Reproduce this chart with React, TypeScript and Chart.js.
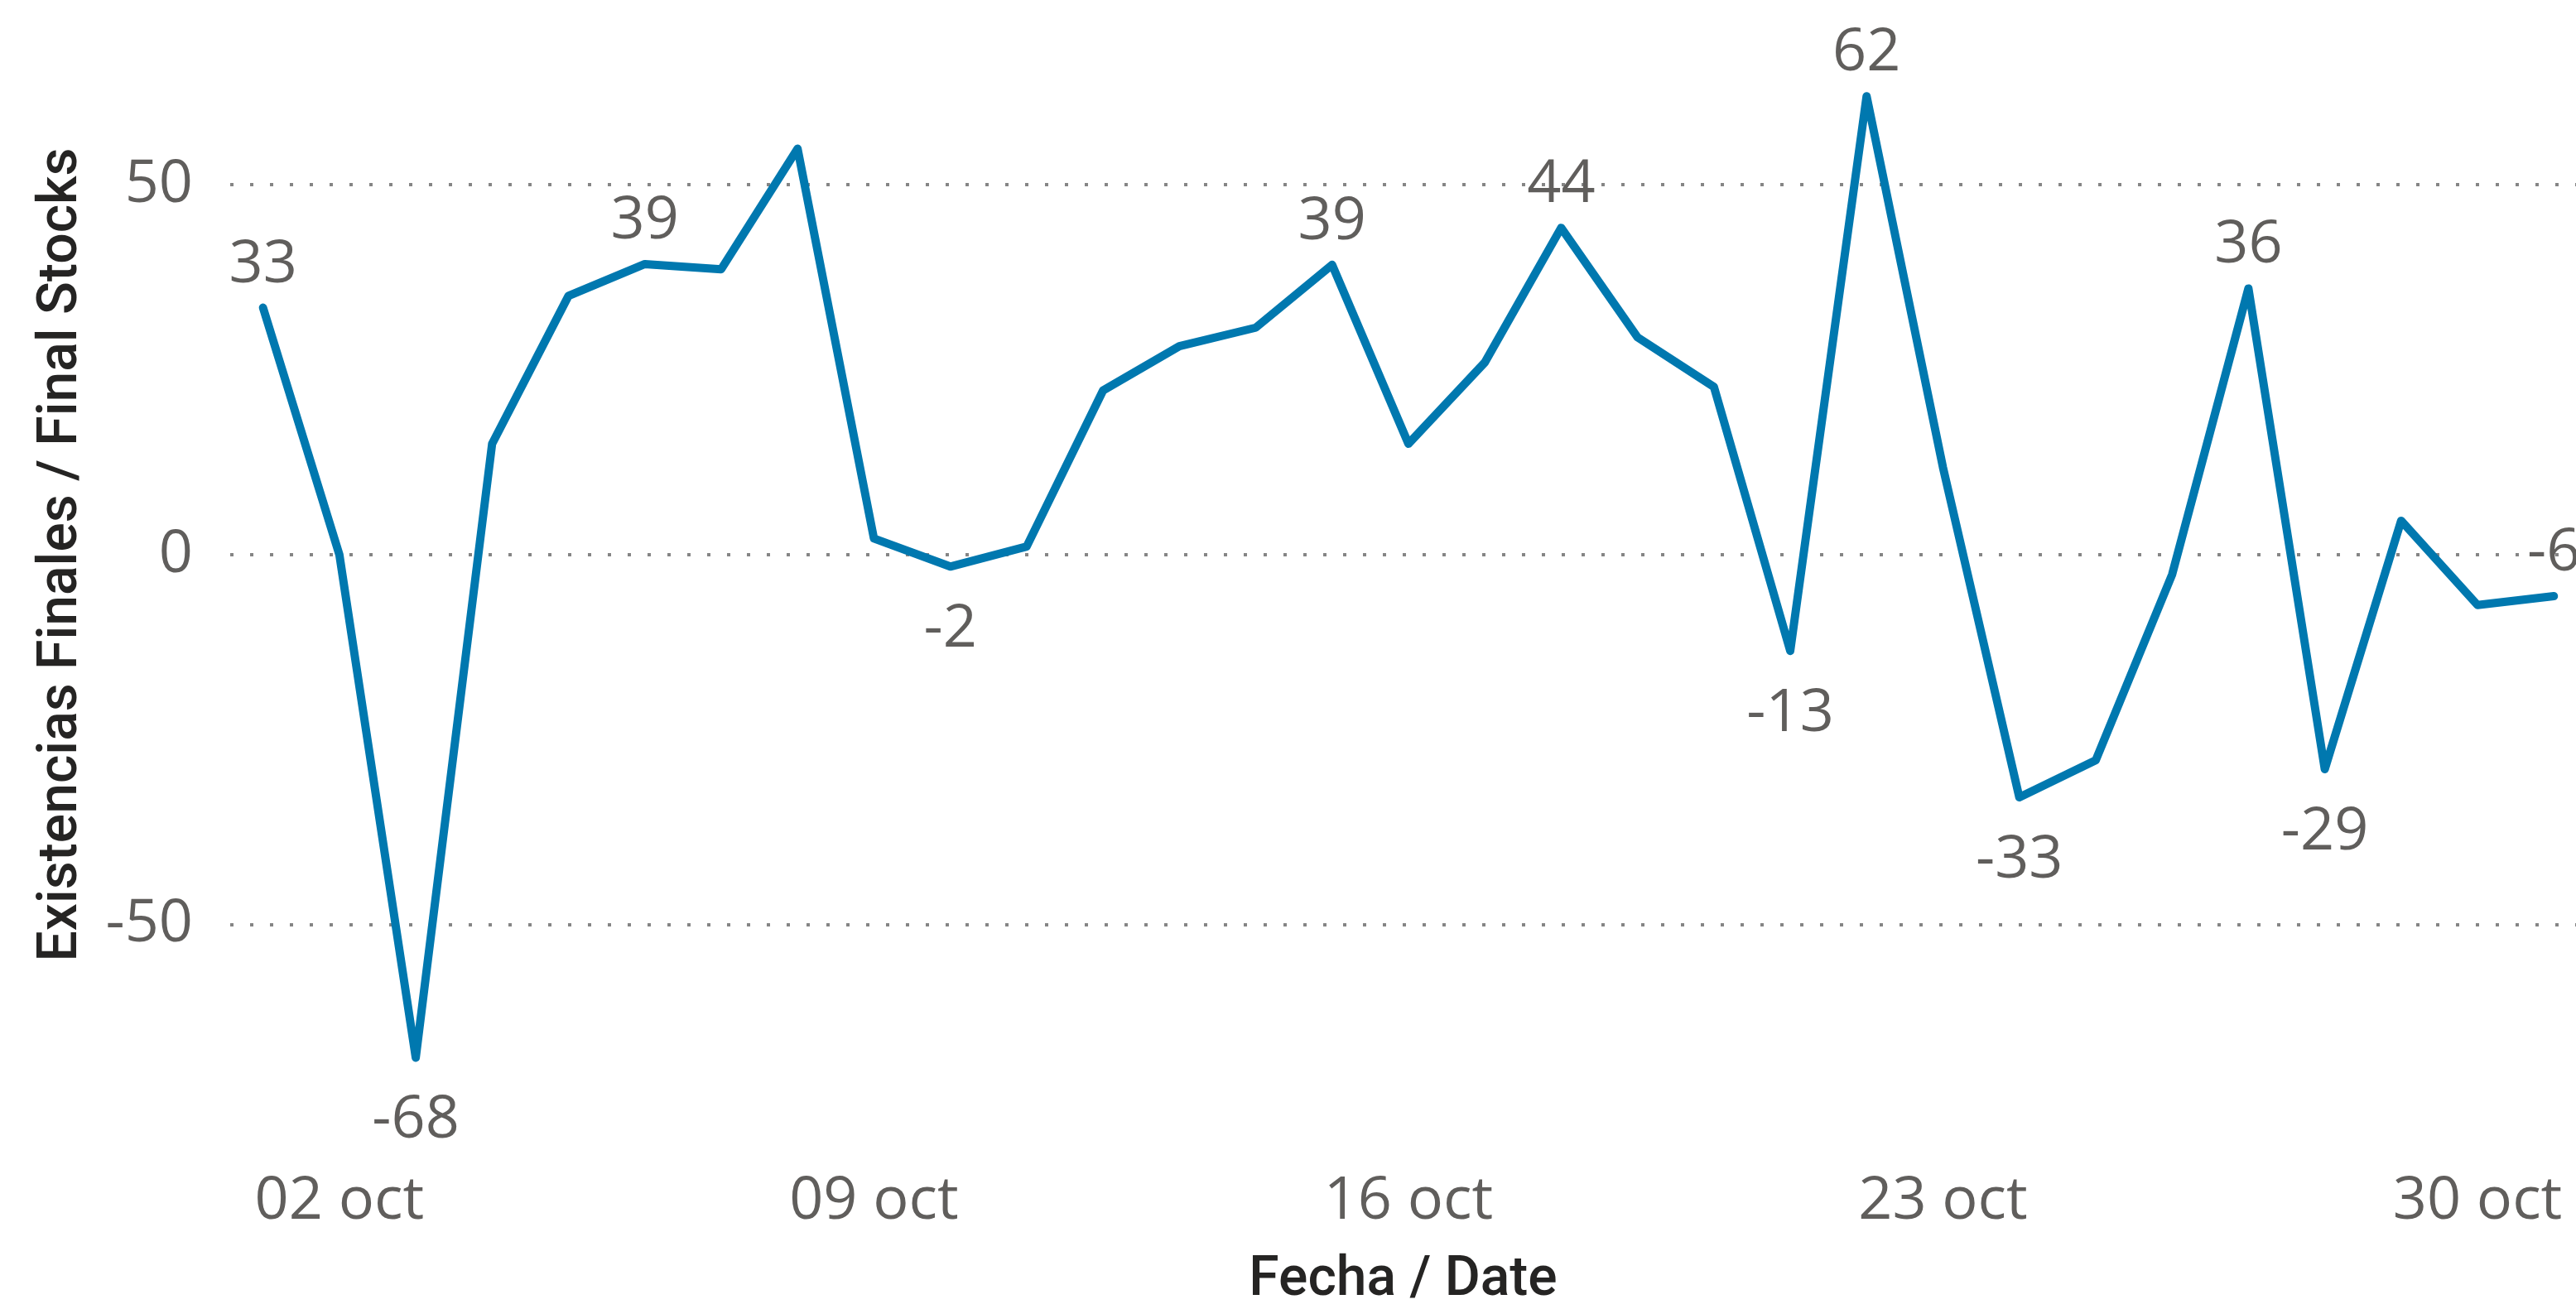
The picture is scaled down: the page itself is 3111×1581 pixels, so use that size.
import { useEffect, useRef } from 'react';
import { Chart, registerables } from 'chart.js';

Chart.register(...registerables);

// Day of October for each point
const days = [1, 2, 3, 4, 5, 6, 7, 8, 9, 10, 11, 12, 13, 14, 15, 16, 17, 18, 19, 20, 21, 22, 23, 24, 25, 26, 27, 28, 29, 30, 31];
// Existencias Finales / Final Stocks
const values = [33.4, 0, -68, 15, 35, 39.3, 38.6, 54.9, 2.2, -1.6, 1.1, 22.2, 28.2, 30.7, 39.2, 15, 26, 44.2, 29.4, 22.7, -13, 62, 11.8, -32.8, -27.8, -2.7, 36, -29, 4.6, -6.8, -5.6];
const monthLabel = 'oct';
const xTickDays = [2, 9, 16, 23, 30];
const yTicks = [-50, 0, 50];
// points that carry a data label, and whether the label sits below the point
const labeledDays = [1, 3, 6, 10, 15, 18, 21, 22, 24, 27, 28, 31];
const labelBelow = [false, true, false, true, false, false, true, false, true, false, true, false];

const W = 3111;
const H = 1581;

const pointLabels = {
  id: 'pointLabels',
  afterDatasetsDraw(chart: any) {
    const ctx = chart.ctx;
    const meta = chart.getDatasetMeta(0);
    ctx.save();
    ctx.font = '400 72px "Open Sans"';
    ctx.fillStyle = '#605E5C';
    ctx.textAlign = 'center';
    ctx.textBaseline = 'alphabetic';
    labeledDays.forEach((d, k) => {
      const i = days.indexOf(d);
      const el = meta.data[i];
      if (!el) return;
      const text = String(Math.round(values[i]));
      const y = labelBelow[k] ? el.y + 97 : el.y - 31;
      ctx.fillText(text, el.x, y);
    });
    ctx.restore();
  },
};

export default function App() {
  const ref = useRef<HTMLCanvasElement | null>(null);

  useEffect(() => {
    if (!ref.current) return;
    const chart = new Chart(ref.current, {
      type: 'line',
      data: {
        datasets: [
          {
            data: days.map((d, i) => ({ x: d, y: values[i] })),
            borderColor: '#0078AF',
            borderWidth: 10,
            borderJoinStyle: 'round',
            borderCapStyle: 'round',
            pointRadius: 0,
            tension: 0,
            fill: false,
            clip: false,
          },
        ],
      },
      options: {
        animation: false,
        responsive: false,
        devicePixelRatio: 1,
        layout: { padding: 0, autoPadding: false },
        plugins: {
          legend: { display: false },
          tooltip: { enabled: false },
        },
        scales: {
          x: {
            type: 'linear',
            min: 0.57,
            max: 31.29,
            afterBuildTicks: (s: any) => {
              s.ticks = xTickDays.map((v) => ({ value: v }));
            },
            afterFit: (s: any) => {
              s.height = 241;
              s.paddingLeft = 0;
              s.paddingRight = 0;
              s.paddingTop = 0;
              s.paddingBottom = 0;
            },
            ticks: {
              autoSkip: false,
              maxRotation: 0,
              padding: 68,
              color: '#605E5C',
              font: { family: '"Open Sans"', size: 72 },
              callback: (v: any) => String(v).padStart(2, '0') + ' ' + monthLabel,
            },
            grid: { display: false, drawTicks: false },
            border: { display: false },
            title: {
              display: true,
              text: 'Fecha / Date',
              color: '#252423',
              font: { family: 'Roboto', size: 66, weight: '500', lineHeight: 1 },
              padding: { top: 0, bottom: 1 },
            },
          },
          y: {
            type: 'linear',
            min: -75,
            max: 75,
            afterBuildTicks: (s: any) => {
              s.ticks = yTicks.map((v) => ({ value: v }));
            },
            afterFit: (s: any) => {
              s.width = 278;
              s.paddingLeft = 0;
              s.paddingRight = 0;
              s.paddingTop = 0;
              s.paddingBottom = 0;
            },
            ticks: {
              padding: 45,
              color: '#605E5C',
              font: { family: '"Open Sans"', size: 72 },
            },
            grid: { color: '#858585', lineWidth: 4, drawTicks: false },
            border: { display: false, dash: [4, 20] },
            title: {
              display: true,
              text: 'Existencias Finales / Final Stocks',
              color: '#252423',
              font: { family: 'Roboto', size: 66, weight: '500', lineHeight: 1 },
              padding: { top: 42, bottom: 0 },
            },
          },
        },
      },
      plugins: [pointLabels],
    });
    return () => chart.destroy();
  }, []);

  return (
    <div style={{ position: 'absolute', left: 0, top: 0, width: W, height: H, overflow: 'hidden', background: '#fff' }}>
      <canvas ref={ref} width={W} height={H} style={{ display: 'block', width: W, height: H }} />
    </div>
  );
}
